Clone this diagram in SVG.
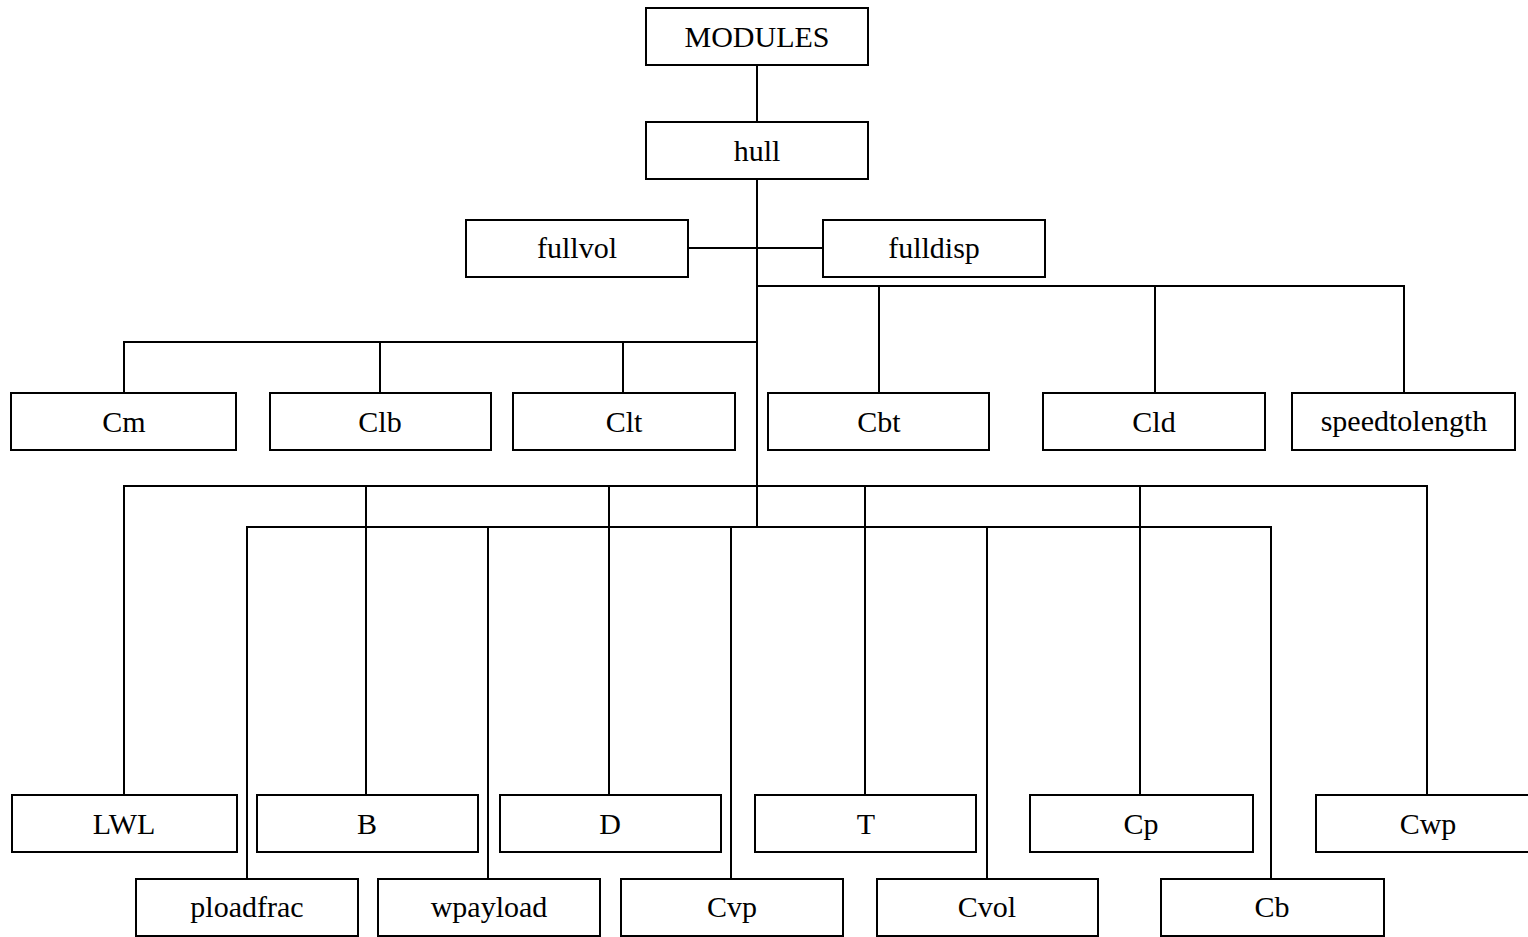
<svg xmlns="http://www.w3.org/2000/svg" width="1528" height="937" viewBox="0 0 1528 937">
<style>
.box{fill:#fff;stroke:#000;stroke-width:2}
.lbl{font-family:"Liberation Serif","Times New Roman",serif;font-size:30px;fill:#000;text-anchor:middle}
.con{fill:none;stroke:#000;stroke-width:2}
</style>
<rect width="1528" height="937" fill="#fff"/>
<g id="connectors" class="con">
<path d="M757 65V122"/>
<path d="M757 179V527"/>
<path d="M688 248H823"/>
<path d="M757 286H1404V393M879 286V393M1155 286V393"/>
<path d="M757 342H124V393M380 342V393M623 342V393"/>
<path d="M124 795V486H1427V795M366 486V795M609 486V795M865 486V795M1140 486V795"/>
<path d="M247 879V527H1271V879M488 527V879M731 527V879M987 527V879"/>
</g>
<g id="MODULES"><rect class="box" x="646" y="8" width="222" height="57"/><text class="lbl" x="757" y="47">MODULES</text></g>
<g id="hull"><rect class="box" x="646" y="122" width="222" height="57"/><text class="lbl" x="757" y="161">hull</text></g>
<g id="fullvol"><rect class="box" x="466" y="220" width="222" height="57"/><text class="lbl" x="577" y="258">fullvol</text></g>
<g id="fulldisp"><rect class="box" x="823" y="220" width="222" height="57"/><text class="lbl" x="934" y="258">fulldisp</text></g>
<g id="Cm"><rect class="box" x="11" y="393" width="225" height="57"/><text class="lbl" x="124" y="432">Cm</text></g>
<g id="Clb"><rect class="box" x="270" y="393" width="221" height="57"/><text class="lbl" x="380" y="432">Clb</text></g>
<g id="Clt"><rect class="box" x="513" y="393" width="222" height="57"/><text class="lbl" x="624" y="432">Clt</text></g>
<g id="Cbt"><rect class="box" x="768" y="393" width="221" height="57"/><text class="lbl" x="879" y="432">Cbt</text></g>
<g id="Cld"><rect class="box" x="1043" y="393" width="222" height="57"/><text class="lbl" x="1154" y="432">Cld</text></g>
<g id="speedtolength"><rect class="box" x="1292" y="393" width="223" height="57"/><text class="lbl" x="1404" y="431">speedtolength</text></g>
<g id="LWL"><rect class="box" x="12" y="795" width="225" height="57"/><text class="lbl" x="124" y="834">LWL</text></g>
<g id="B"><rect class="box" x="257" y="795" width="221" height="57"/><text class="lbl" x="367" y="834">B</text></g>
<g id="D"><rect class="box" x="500" y="795" width="221" height="57"/><text class="lbl" x="610" y="834">D</text></g>
<g id="T"><rect class="box" x="755" y="795" width="221" height="57"/><text class="lbl" x="866" y="834">T</text></g>
<g id="Cp"><rect class="box" x="1030" y="795" width="223" height="57"/><text class="lbl" x="1141" y="834">Cp</text></g>
<g id="Cwp"><rect class="box" x="1316" y="795" width="224" height="57"/><text class="lbl" x="1428" y="834">Cwp</text></g>
<g id="ploadfrac"><rect class="box" x="136" y="879" width="222" height="57"/><text class="lbl" x="247" y="917">ploadfrac</text></g>
<g id="wpayload"><rect class="box" x="378" y="879" width="222" height="57"/><text class="lbl" x="489" y="917">wpayload</text></g>
<g id="Cvp"><rect class="box" x="621" y="879" width="222" height="57"/><text class="lbl" x="732" y="917">Cvp</text></g>
<g id="Cvol"><rect class="box" x="877" y="879" width="221" height="57"/><text class="lbl" x="987" y="917">Cvol</text></g>
<g id="Cb"><rect class="box" x="1161" y="879" width="223" height="57"/><text class="lbl" x="1272" y="917">Cb</text></g>
</svg>
